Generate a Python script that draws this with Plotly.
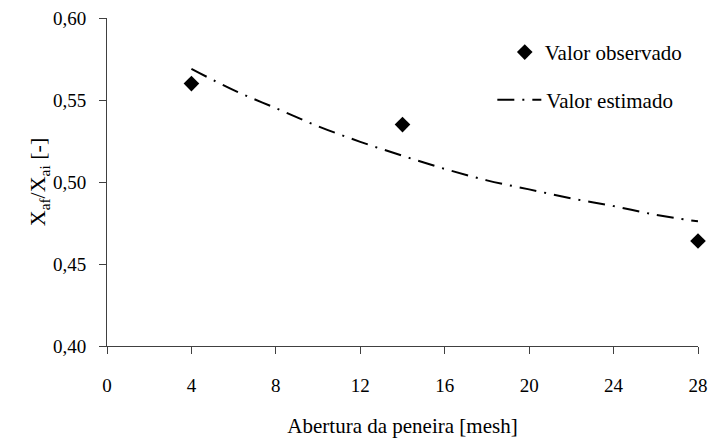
import plotly.graph_objects as go

obs_x = [4, 14, 28]
obs_y = [0.560, 0.535, 0.464]

est_x = [4, 6, 8, 10, 12, 14, 16, 18, 20, 22, 24, 26, 28]
est_y = [0.569, 0.556, 0.545, 0.534, 0.5245, 0.516, 0.508, 0.501, 0.4955, 0.490, 0.4853, 0.480, 0.476]

font_family = "Liberation Serif"

fig = go.Figure()
fig.add_trace(go.Scatter(
    x=obs_x, y=obs_y, mode="markers", name="Valor observado",
    marker=dict(symbol="diamond", size=12, color="black"),
    legend="legend", cliponaxis=False,
))
fig.add_trace(go.Scatter(
    x=est_x, y=est_y, mode="lines", name="Valor estimado",
    line=dict(color="black", width=2, dash="17px,8px,2px,8px", shape="spline"),
    legend="legend2", cliponaxis=False,
))

axis_common = dict(
    showgrid=False, zeroline=False, showline=True, linecolor="#404040", linewidth=1,
    ticks="outside", ticklen=7, tickcolor="#404040", ticklabeloverflow="allow",
    tickfont=dict(family=font_family, size=19, color="black"),
)

fig.update_layout(
    width=708, height=438,
    margin=dict(l=107, r=10, t=18, b=92),
    paper_bgcolor="white", plot_bgcolor="white",
    separators=",.",
    showlegend=True,
    font=dict(family=font_family, color="black"),
    xaxis=dict(range=[0, 28], tickvals=[0, 4, 8, 12, 16, 20, 24, 28], automargin=False,
               ticklabelstandoff=15, **axis_common,
               title=dict(text="Abertura da peneira [mesh]", font=dict(size=21, family=font_family), standoff=28)),
    yaxis=dict(range=[0.40, 0.60], tickvals=[0.40, 0.45, 0.50, 0.55, 0.60], tickformat=".2f", automargin=False,
               ticklabelstandoff=9, **axis_common,
               title=dict(text="X<sub>af</sub>/X<sub>ai</sub> [-]", font=dict(size=22, family=font_family), standoff=0)),
    legend=dict(x=0.673, y=0.895, xanchor="left", yanchor="middle", bgcolor="rgba(0,0,0,0)",
                font=dict(size=21, family=font_family)),
    legend2=dict(x=0.652, y=0.75, xanchor="left", yanchor="middle", bgcolor="rgba(0,0,0,0)",
                 font=dict(size=21, family=font_family), itemwidth=44),
)

fig.write_html("out.html")
